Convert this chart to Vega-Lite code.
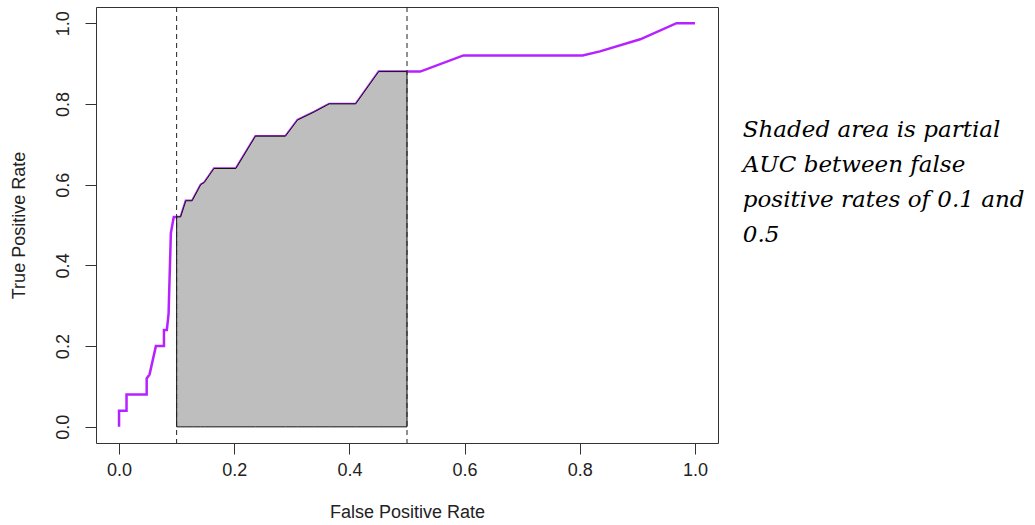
{
  "$schema": "https://vega.github.io/schema/vega-lite/v6.json",
  "width": 622,
  "height": 436,
  "autosize": "none",
  "padding": {"left": 96, "top": 7, "right": 317, "bottom": 82},
  "background": "white",
  "config": {
    "view": {"stroke": "#333", "strokeWidth": 1},
    "axis": {
      "domain": false, "grid": false, "tickSize": 11, "tickColor": "#333", "tickWidth": 1,
      "labelFont": "Liberation Sans", "labelFontSize": 18, "labelColor": "#222",
      "titleFont": "Liberation Sans", "titleFontSize": 18, "titleFontWeight": "normal", "titleColor": "#222"
    }
  },
  "datasets": {
    "roc": [
      {"fpr": 0.0, "tpr": 0.0}, {"fpr": 0.0, "tpr": 0.04}, {"fpr": 0.013, "tpr": 0.04},
      {"fpr": 0.013, "tpr": 0.08}, {"fpr": 0.048, "tpr": 0.08}, {"fpr": 0.048, "tpr": 0.12},
      {"fpr": 0.053, "tpr": 0.13}, {"fpr": 0.064, "tpr": 0.2}, {"fpr": 0.078, "tpr": 0.2},
      {"fpr": 0.078, "tpr": 0.24}, {"fpr": 0.083, "tpr": 0.24}, {"fpr": 0.086, "tpr": 0.28},
      {"fpr": 0.09, "tpr": 0.48}, {"fpr": 0.095, "tpr": 0.52}, {"fpr": 0.107, "tpr": 0.52},
      {"fpr": 0.116, "tpr": 0.56}, {"fpr": 0.127, "tpr": 0.56}, {"fpr": 0.142, "tpr": 0.6},
      {"fpr": 0.148, "tpr": 0.605}, {"fpr": 0.165, "tpr": 0.64}, {"fpr": 0.203, "tpr": 0.64},
      {"fpr": 0.237, "tpr": 0.72}, {"fpr": 0.289, "tpr": 0.72}, {"fpr": 0.31, "tpr": 0.76},
      {"fpr": 0.339, "tpr": 0.78}, {"fpr": 0.365, "tpr": 0.8}, {"fpr": 0.411, "tpr": 0.8},
      {"fpr": 0.451, "tpr": 0.88}, {"fpr": 0.5, "tpr": 0.88}, {"fpr": 0.523, "tpr": 0.88},
      {"fpr": 0.598, "tpr": 0.92}, {"fpr": 0.805, "tpr": 0.92}, {"fpr": 0.835, "tpr": 0.93},
      {"fpr": 0.905, "tpr": 0.96}, {"fpr": 0.968, "tpr": 1.0}, {"fpr": 1.0, "tpr": 1.0}
    ],
    "pauc": [
      {"fpr": 0.1, "tpr": 0.52}, {"fpr": 0.107, "tpr": 0.52},
      {"fpr": 0.116, "tpr": 0.56}, {"fpr": 0.127, "tpr": 0.56}, {"fpr": 0.142, "tpr": 0.6},
      {"fpr": 0.148, "tpr": 0.605}, {"fpr": 0.165, "tpr": 0.64}, {"fpr": 0.203, "tpr": 0.64},
      {"fpr": 0.237, "tpr": 0.72}, {"fpr": 0.289, "tpr": 0.72}, {"fpr": 0.31, "tpr": 0.76},
      {"fpr": 0.339, "tpr": 0.78}, {"fpr": 0.365, "tpr": 0.8}, {"fpr": 0.411, "tpr": 0.8},
      {"fpr": 0.451, "tpr": 0.88}, {"fpr": 0.5, "tpr": 0.88}
    ],
    "bounds": [{"fpr": 0.1}, {"fpr": 0.5}],
    "note": [{"fpr": 1.083, "tpr": 0.719, "text": "Shaded area is partial\nAUC between false\npositive rates of 0.1 and\n0.5"}]
  },
  "layer": [
    {
      "data": {"name": "roc"},
      "mark": {"type": "line", "color": "#B622FF", "strokeWidth": 2.5, "interpolate": "linear"},
      "encoding": {
        "x": {"field": "fpr", "type": "quantitative", "sort": null,
              "scale": {"domain": [-0.04, 1.04], "nice": false, "zero": false},
              "axis": {"values": [0, 0.2, 0.4, 0.6, 0.8, 1.0], "format": ".1f", "title": "False Positive Rate",
                       "labelPadding": 7, "titlePadding": 24}},
        "y": {"field": "tpr", "type": "quantitative",
              "scale": {"domain": [-0.04, 1.04], "nice": false, "zero": false},
              "axis": {"values": [0, 0.2, 0.4, 0.6, 0.8, 1.0], "format": ".1f", "title": "True Positive Rate",
                       "labelAngle": -90, "labelAlign": "center", "labelBaseline": "bottom", "labelPadding": 13, "titlePadding": 26}},
        "order": {"value": 0}
      }
    },
    {
      "data": {"name": "pauc"},
      "mark": {"type": "area", "color": "#BEBEBE", "fillOpacity": 1, "stroke": "#111", "strokeWidth": 1, "line": false},
      "encoding": {
        "x": {"field": "fpr", "type": "quantitative"},
        "y": {"field": "tpr", "type": "quantitative"},
        "y2": {"datum": 0}
      }
    },
    {
      "data": {"name": "bounds"},
      "mark": {"type": "rule", "color": "#222", "strokeWidth": 1, "strokeDash": [5, 4]},
      "encoding": {"x": {"field": "fpr", "type": "quantitative"}}
    },
    {
      "data": {"name": "note"},
      "mark": {"type": "text", "align": "left", "baseline": "alphabetic", "font": "DejaVu Serif", "fontStyle": "italic",
               "fontSize": 23, "lineHeight": 35, "lineBreak": "\n", "color": "#000"},
      "encoding": {
        "x": {"field": "fpr", "type": "quantitative"},
        "y": {"field": "tpr", "type": "quantitative"},
        "text": {"field": "text", "type": "nominal"}
      }
    }
  ]
}
